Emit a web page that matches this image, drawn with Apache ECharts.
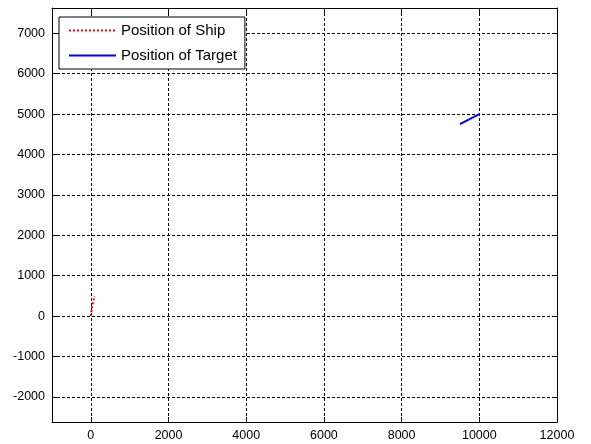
<!DOCTYPE html>
<html>
<head>
<meta charset="utf-8">
<script src="https://cdn.jsdelivr.net/npm/echarts@6/dist/echarts.min.js"></script>
<style>
  html, body { margin: 0; padding: 0; background: #fff; }
  #chart { width: 591px; height: 444px; }
</style>
</head>
<body>
<div id="chart"></div>
<script>
// Tick positions for both axes
const xTicks = [0, 2000, 4000, 6000, 8000, 10000, 12000];
const yTicks = [-2000, -1000, 0, 1000, 2000, 3000, 4000, 5000, 6000, 7000];

// Track of the ship (x, y)
const shipX = [0, 20, 45, 60, 75, 85, 95];
const shipY = [0, 150, 290, 360, 420, 465, 500];

// Track of the target (x, y)
const targetX = [9500, 9750, 10000];
const targetY = [4750, 4875, 5000];

const xRange = [-1000, 12000];
const yRange = [-2620, 7625];

const pairs = (xs, ys) => xs.map((x, i) => [x, ys[i]]);

const fontFamily = 'Liberation Sans, Arial, sans-serif';
const tickFont = { color: '#000', fontFamily: fontFamily, fontSize: 12.5 };
const gridDash = { color: '#000', type: [3, 2], width: 1 };

function makeAxis(which, show, pos) {
  const ticks = which === 'x' ? xTicks : yTicks;
  const range = which === 'x' ? xRange : yRange;
  return {
    type: 'value', position: pos, min: range[0], max: range[1],
    axisLine: { show: true, onZero: false, lineStyle: { color: '#000', width: 1 } },
    axisTick: { show: true, inside: true, length: 5, customValues: ticks, lineStyle: { color: '#000' } },
    axisLabel: Object.assign({
      show: show, margin: which === 'x' ? 7 : 7, customValues: ticks,
      formatter: v => String(v)
    }, tickFont),
    splitLine: { show: show, lineStyle: gridDash }
  };
}

const chart = echarts.init(document.getElementById('chart'), null, { renderer: 'canvas' });
chart.setOption({
  animation: false,
  backgroundColor: '#fff',
  grid: { left: 52, right: 34, top: 8, bottom: 22, containLabel: false },
  xAxis: [makeAxis('x', true, 'bottom'), makeAxis('x', false, 'top')],
  yAxis: [makeAxis('y', true, 'left'), makeAxis('y', false, 'right')],
  legend: {
    left: 59, top: 17, orient: 'vertical',
    backgroundColor: '#fff', borderColor: '#000', borderWidth: 1, borderRadius: 0,
    padding: [6, 8, 6, 9], itemGap: 10, itemWidth: 47, itemHeight: 14,
    itemStyle: { opacity: 0 },
    textStyle: { color: '#000', fontFamily: fontFamily, fontSize: 15, padding: [0, 0, 0, 0] },
    data: ['Position of Ship', 'Position of Target']
  },
  series: [
    {
      name: 'Position of Ship', type: 'line', xAxisIndex: 0, yAxisIndex: 0,
      data: pairs(shipX, shipY), symbol: 'none', color: '#ff0000',
      lineStyle: { color: '#ff0000', width: 2, type: 'dotted' }
    },
    {
      name: 'Position of Target', type: 'line', xAxisIndex: 0, yAxisIndex: 0,
      data: pairs(targetX, targetY), symbol: 'none', color: '#0000ff',
      lineStyle: { color: '#0000ff', width: 2 }
    }
  ]
});
</script>
</body>
</html>
